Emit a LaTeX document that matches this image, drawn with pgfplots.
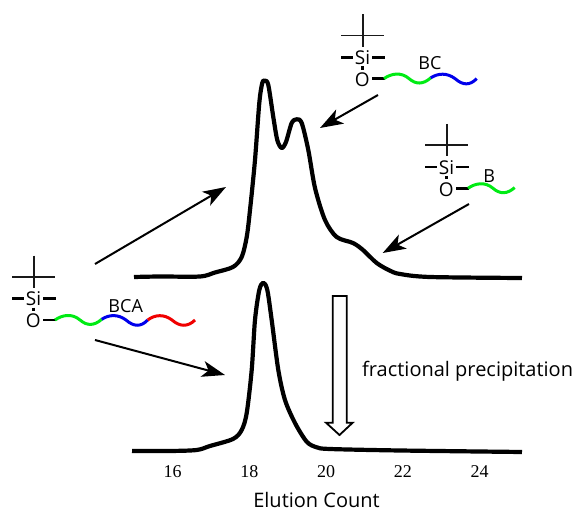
\documentclass[border=0pt]{standalone}
\usepackage{fontspec}
\setmainfont{Open Sans}
\newfontfamily\serifnum{Liberation Serif}
\usepackage{pgfplots}
\pgfplotsset{compat=1.18}
\usetikzlibrary{arrows.meta}
\definecolor{wgreen}{RGB}{0,235,20}
\definecolor{wblue}{RGB}{0,0,235}
\definecolor{wred}{RGB}{240,0,0}
\newcommand{\siunit}[2]{%
 \begin{scope}[shift={(#1,#2)}]
  \draw[line width=1.7pt,black!90] (33.7,255.7)--(33.7,288);
  \draw[line width=1.7pt,black!90] (12,277)--(55,277);
  \node[font=\fontsize{19}{19}\selectfont,inner sep=0pt] at (33.5,299) {Si};
  \draw[line width=2.5pt] (12,298.7)--(23.5,298.7);
  \draw[line width=2.5pt] (43.3,298.7)--(55.7,298.7);
  \draw[line width=2.5pt] (33.7,307.7)--(33.7,311.2);
  \node[font=\fontsize{19}{19}\selectfont,inner sep=0pt] at (33.3,321) {O};
  \draw[line width=2.6pt] (43.3,320)--(56,320);
  \draw[wgreen,line width=3pt] (55,320) .. controls (62,315) and (72,313) .. (80,320) .. controls (87,326) and (94,326) .. (101.7,319.3);
 \end{scope}}
\newcommand{\bluewave}[2]{%
 \begin{scope}[shift={(#1,#2)}]
  \draw[wblue,line width=3pt] (101.7,319.3) .. controls (109,314.5) and (118,314) .. (126,320) .. controls (134,327) and (141,327) .. (147.7,320);
 \end{scope}}
\begin{document}
\begin{tikzpicture}[x=1pt,y=1pt]
\path[use as bounding box] (0,0) rectangle (574,512);
\begin{axis}[
  at={(0pt,52pt)},anchor=south west,
  scale only axis,width=574pt,height=460pt,
  xmin=11.497,xmax=26.464,ymin=52,ymax=512,
  axis line style={draw=none},
  major tick length=0pt,
  ytick=\empty,
  xtick={16,18,20,22,24},
  tick label style={font=\serifnum\fontsize{18}{18}\selectfont},
  /pgf/number format/assume math mode=true,
  xticklabel style={yshift=-2pt},
  xlabel={Elution Count},
  xlabel style={font=\fontsize{20}{20}\selectfont,at={(axis cs:19.75,52)},anchor=north,yshift=-32pt,inner sep=0pt},
  clip=false,
]
\addplot[black,line width=4.2pt,smooth,line join=round] coordinates {
(14.991,235)(15.669,235.5)(16.712,235.5)(17.103,239.5)(17.572,245)(17.799,255)(17.930,275)(18.016,302)(18.146,352)(18.258,409)(18.336,429)(18.407,431.3)(18.493,427)(18.623,395)(18.727,372)(18.842,364)(18.954,370)(19.103,389)(19.233,392.7)(19.364,389)(19.536,362)(19.711,324)(19.971,292)(20.276,275)(20.701,269)(20.962,262)(21.319,249)(21.666,241.3)(21.927,238)(22.709,235)(25.108,234)};
\addplot[black,line width=4.2pt,smooth,line join=round] coordinates {
(14.939,61)(15.93,61)(16.626,62)(16.973,66)(17.572,73)(17.799,82)(17.930,99)(18.06,142)(18.146,192)(18.258,222)(18.362,229.3)(18.467,222)(18.581,192)(18.754,142)(18.928,112)(19.189,89)(19.494,70.3)(19.755,64.7)(20.102,63)(21.927,61.5)(25.108,60)};
\end{axis}
\begin{scope}[x=1pt,y=-1pt,shift={(0pt,512pt)}]
 % arrows
 \tikzset{arr/.style={line width=2pt,-{Stealth[length=23pt,width=16pt,inset=6pt]}}}
 \draw[arr] (95,264)--(226,187);
 \draw[arr] (95,340)--(225,375);
 \draw[arr] (378,95)--(320,128);
 \draw[arr] (469,204)--(382.7,253);
 % hollow down arrow
 \draw[line width=1.8pt,fill=white,line join=miter] (332.7,296)--(346.7,296)--(346.7,422.7)--(352.7,422.7)--(339.5,435)--(326,422.7)--(332.7,422.7)--cycle;
 % structures
 \siunit{0}{0}\bluewave{0}{0}
 \draw[wred,line width=3pt] (147.7,320) .. controls (155,314.5) and (164,314) .. (172,320) .. controls (180,327) and (188,327) .. (195,320);
 \node[font=\fontsize{18}{18}\selectfont,inner sep=0pt] at (125.7,306) {BCA};
 \siunit{329}{-241.4}\bluewave{329}{-241.4}
 \node[font=\fontsize{18}{18}\selectfont,inner sep=0pt] at (430,62.7) {BC};
 \siunit{413}{-131.7}
 \node[font=\fontsize{18}{18}\selectfont,inner sep=0pt] at (489.3,175.7) {B};
 \node[font=\fontsize{20}{20}\selectfont,inner sep=0pt,anchor=base west] at (362,377) {fractional precipitation};
\end{scope}
\end{tikzpicture}
\end{document}
